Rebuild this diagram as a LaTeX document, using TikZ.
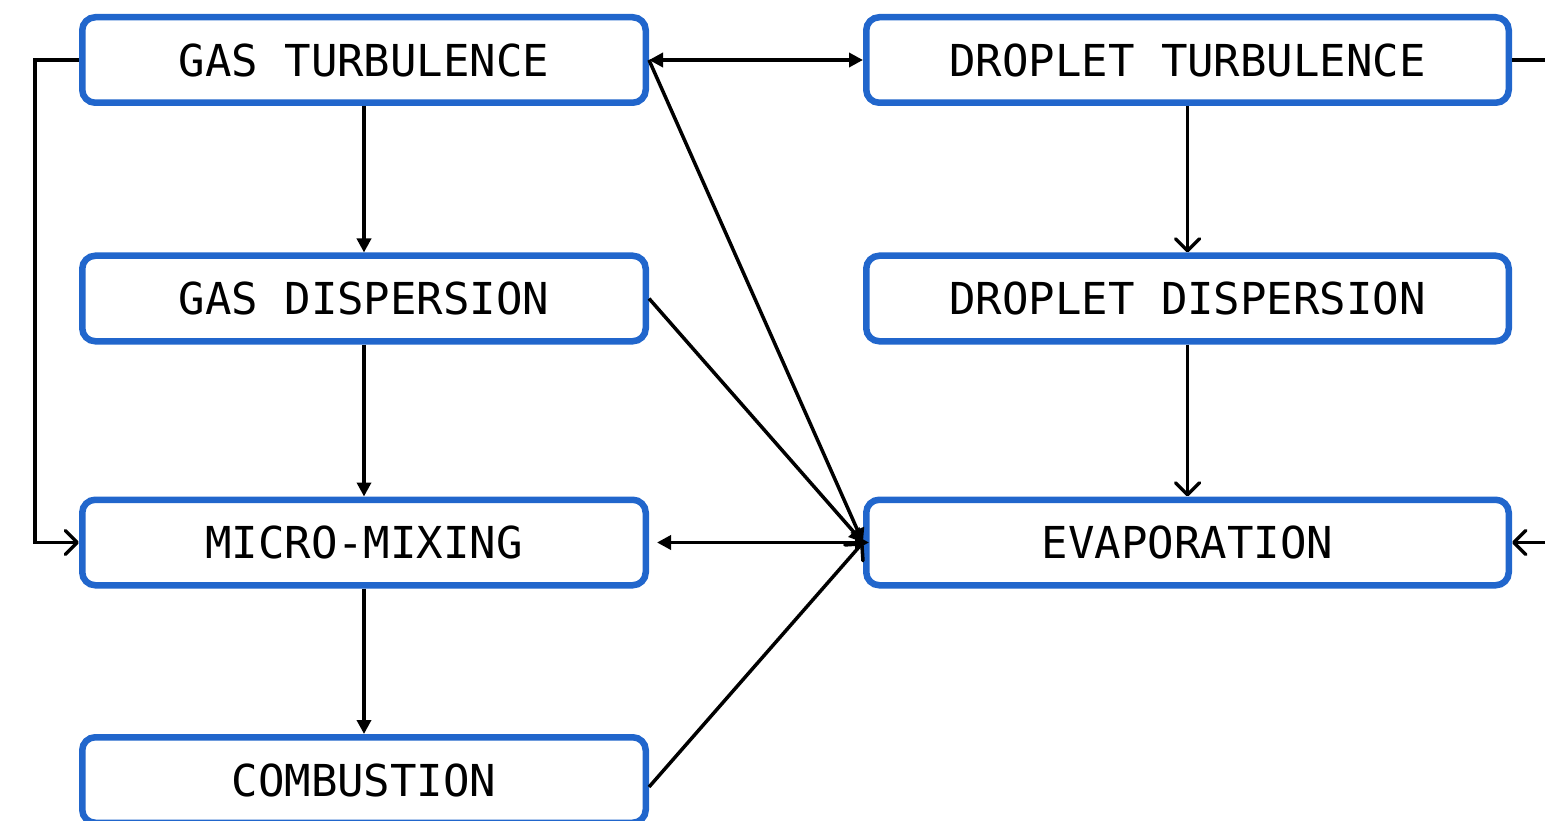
\documentclass[tikz,border=0pt]{standalone}
\usepackage{fontspec}
\newfontfamily\boxfont{DejaVu Sans Mono}
\usetikzlibrary{arrows.meta}
\definecolor{boxblue}{HTML}{2166CC}
\begin{document}
\begin{tikzpicture}[x=1pt,y=-1pt,
  stage/.style={draw=boxblue, line width=6.5pt, rounded corners=13pt, fill=white,
    minimum height=85.5pt, inner sep=0pt, text=black,
    font=\boxfont\fontsize{44}{50}\selectfont},
  leftbox/.style={stage, minimum width=563.5pt},
  rightbox/.style={stage, minimum width=642.5pt},
  link/.style={line width=3.5pt, draw=black},
  fill tip/.tip={Triangle[length=14pt,width=14pt]},
  open tip/.tip={Straight Barb[round,length=12pt,width=24pt]},
]
\path[use as bounding box] (0,0) rectangle (1545,821);
\clip (0,0) rectangle (1545,821);

% left column: gas phase
\node[leftbox] (gt) at (364,60)    {GAS TURBULENCE};
\node[leftbox] (gd) at (364,298.5) {GAS DISPERSION};
\node[leftbox] (mm) at (364,542.5) {MICRO-MIXING};
\node[leftbox] (cb) at (364,780)   {COMBUSTION};

% right column: liquid phase
\node[rightbox] (dt) at (1187.5,60)    {DROPLET TURBULENCE};
\node[rightbox] (dd) at (1187.5,298.5) {DROPLET DISPERSION};
\node[rightbox] (ev) at (1187.5,542.5) {EVAPORATION};

% gas-phase chain
\draw[link,-fill tip] (gt.south) -- (gd.north);
\draw[link,-fill tip] (gd.south) -- (mm.north);
\draw[link,-fill tip] (mm.south) -- (cb.north);
\draw[link,-open tip] (gt.west) -- ++(-44,0) |- (mm.west);

% droplet chain
\draw[link,-open tip] (dt.south) -- (dd.north);
\draw[link,-open tip] (dd.south) -- (ev.north);
\draw[link,-open tip] (dt.east) -- ++(44,0) |- (ev.east);

% coupling between the phases
\draw[link,fill tip-fill tip] (gt.east) -- (dt.west);
\draw[link,-fill tip] (gt.east) -- (ev.west);
\draw[link,-fill tip] (gd.east) -- (ev.west);
\draw[link,-open tip] ([yshift=-7pt]cb.east) -- (ev.west);
\draw[link,fill tip-fill tip,shorten <=8pt,shorten >=-6pt] (mm.east) -- (ev.west);
\end{tikzpicture}
\end{document}
